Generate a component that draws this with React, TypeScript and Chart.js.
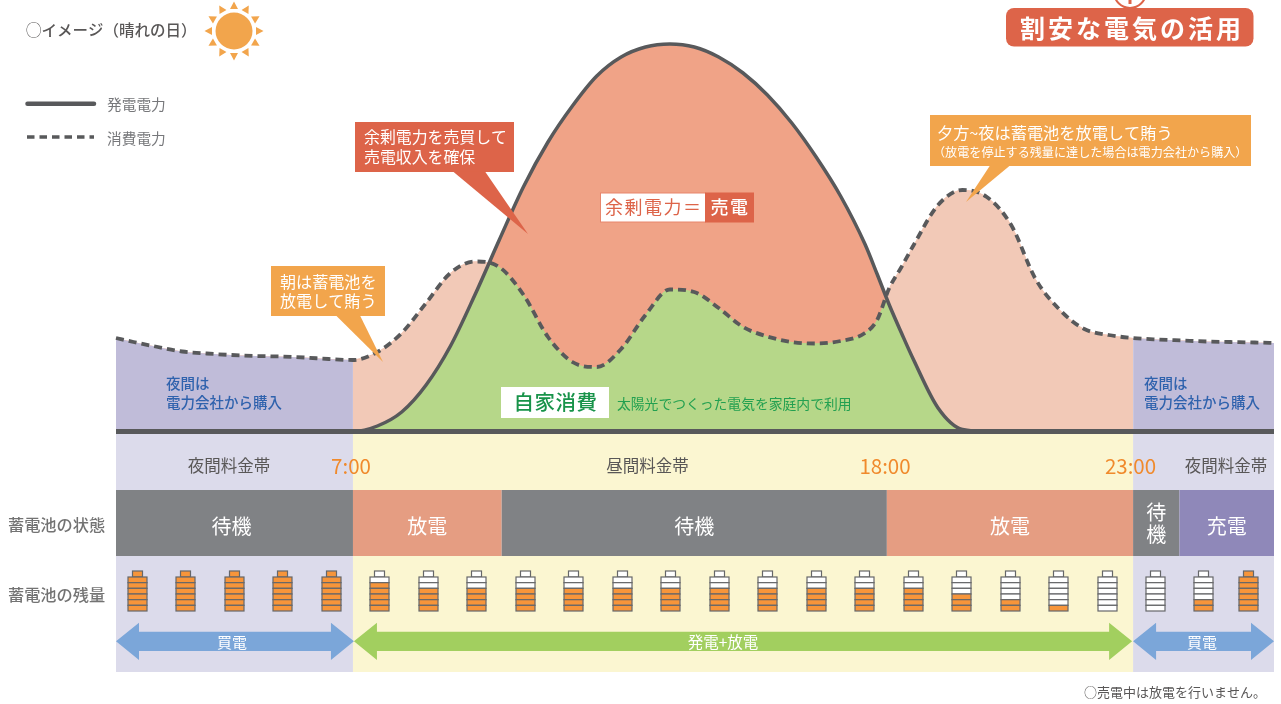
import React, { useEffect, useRef } from "react";
import { Chart, registerables } from "chart.js";

Chart.register(...registerables);

// Time of day in hours (24+ = after midnight)
const hours = [2.14, 2.5, 3, 3.5, 4, 4.5, 5, 5.5, 6, 6.5, 7, 7.5, 8, 8.5, 9, 9.5, 10, 10.5, 11, 11.5, 12, 12.5, 13, 13.5, 14, 14.5, 15, 15.5, 16, 16.5, 17, 17.5, 17.75, 18, 18.25, 18.5, 19, 19.5, 20, 20.5, 21, 21.5, 22, 22.5, 23, 23.5, 24, 24.5, 25, 25.5, 25.89];
const generation = [0, 0, 0, 0, 0, 0, 0, 0, 0, 0, 0, 0.055, 0.195, 0.465, 0.855, 1.365, 1.915, 2.45, 2.895, 3.255, 3.555, 3.745, 3.845, 3.875, 3.845, 3.745, 3.585, 3.365, 3.085, 2.745, 2.355, 1.875, 1.575, 1.265, 0.985, 0.715, 0.235, 0.02, 0, 0, 0, 0, 0, 0, 0, 0, 0, 0, 0, 0, 0];
const consumption = [0.935, 0.895, 0.845, 0.8, 0.78, 0.765, 0.755, 0.75, 0.74, 0.725, 0.715, 0.795, 0.985, 1.285, 1.585, 1.7, 1.645, 1.365, 0.945, 0.695, 0.645, 0.825, 1.165, 1.42, 1.395, 1.235, 1.045, 0.95, 0.895, 0.88, 0.905, 0.985, 1.115, 1.435, 1.645, 1.865, 2.265, 2.415, 2.345, 2.065, 1.525, 1.215, 1.025, 0.965, 0.935, 0.92, 0.91, 0.9, 0.895, 0.89, 0.885];

const dayStart = 7;
const dayEnd = 23;

const feeBands = [
  { from: 2.14, to: 7, night: true },
  { from: 7, to: 23, night: false },
  { from: 23, to: 25.89, night: true },
];
const statusBands = [
  { from: 2.14, to: 7, label: "待機", kind: "idle" },
  { from: 7, to: 10.05, label: "放電", kind: "discharge" },
  { from: 10.05, to: 17.95, label: "待機", kind: "idle" },
  { from: 17.95, to: 23, label: "放電", kind: "discharge" },
  { from: 23, to: 23.95, label: "待\n機", kind: "idle" },
  { from: 23.95, to: 25.89, label: "充電", kind: "charge" },
];
const batteryHours = [2.57, 3.56, 4.56, 5.55, 6.55, 7.53, 8.54, 9.52, 10.53, 11.51, 12.52, 13.5, 14.51, 15.49, 16.5, 17.48, 18.48, 19.47, 20.48, 21.46, 22.46, 23.45, 24.44, 25.36];
const batteryLevels = [7, 7, 7, 7, 7, 5, 4, 4, 4, 4, 4, 4, 4, 4, 4, 4, 4, 3, 2, 1, 0, 0, 2, 7];
const flowArrows = [
  { from: 2.14, to: 7.02, label: "買電", color: "#7ba6d9" },
  { from: 7.02, to: 22.98, label: "発電+放電", color: "#a2cf5f" },
  { from: 23, to: 25.89, label: "買電", color: "#7ba6d9" },
];
const timeMarks = [
  { label: "7:00", x: 351 },
  { label: "18:00", x: 885 },
  { label: "23:00", x: 1130.5 },
];

const FONT = '"Noto Sans CJK JP", "Noto Sans", sans-serif';
const GREY = "#595757";
const LINE = "#58595b";
const RED = "#dd6449";
const ORANGE = "#f2a54c";

function text(ctx: any, s: string, x: number, y: number, size: number, color: string, align = "left", weight = "400", spacing = 0) {
  ctx.save();
  ctx.font = `${weight} ${size}px ${FONT}`;
  ctx.fillStyle = color;
  ctx.textAlign = align;
  ctx.textBaseline = "middle";
  ctx.letterSpacing = `${spacing}px`;
  ctx.fillText(s, x, y);
  ctx.restore();
}

function callout(ctx: any, color: string, rect: number[], tail: number[]) {
  const [x0, y0, x1, y1] = rect;
  ctx.fillStyle = color;
  ctx.fillRect(x0, y0, x1 - x0, y1 - y0);
  ctx.beginPath();
  ctx.moveTo(tail[0], y1 - 0.5);
  ctx.lineTo(tail[1], y1 - 0.5);
  ctx.lineTo(tail[2], tail[3]);
  ctx.closePath();
  ctx.fill();
}

const diagramPlugin = {
  id: "diagram",
  afterDatasetsDraw(chart: any) {
    const ctx = chart.ctx;
    const sx = chart.scales.x;
    const px = (h: number) => sx.getPixelForValue(h);
    ctx.save();

    // fee row + battery row backgrounds
    for (const b of feeBands) {
      ctx.fillStyle = b.night ? "#dcdbeb" : "#fbf6d1";
      ctx.fillRect(px(b.from), 434, px(b.to) - px(b.from), 56);
      ctx.fillRect(px(b.from), 556, px(b.to) - px(b.from), 116);
    }
    text(ctx, "夜間料金帯", 229, 466, 16.5, GREY, "center");
    text(ctx, "昼間料金帯", 647.5, 466, 16.5, GREY, "center");
    text(ctx, "夜間料金帯", 1226, 466, 16.5, GREY, "center");
    for (const t of timeMarks) text(ctx, t.label, t.x, 466.5, 20.5, "#f08a2c", "center", "400");

    // battery status row
    const statusColors: any = { idle: "#808285", discharge: "#e59d82", charge: "#8f88b9" };
    statusBands.forEach((b, i) => {
      ctx.fillStyle = statusColors[b.kind];
      ctx.fillRect(px(b.from), 490, px(b.to) - px(b.from), 66);
      const cx = (px(b.from) + px(b.to)) / 2 - (i === 0 ? 3 : 0);
      const parts = b.label.split("\n");
      parts.forEach((p, k) => {
        const cy = parts.length === 1 ? 526.5 : 512 + k * 22.5;
        text(ctx, p, cx, cy, 20, "#ffffff", "center");
      });
    });
    text(ctx, "蓄電池の状態", 8, 525, 16.2, "#737373", "left", "500");
    text(ctx, "蓄電池の残量", 8, 595, 16.2, "#737373", "left", "500");

    // batteries
    batteryHours.forEach((h, i) => {
      const level = batteryLevels[i];
      const cx = Math.round(px(h)) + 0.5;
      const segH = 34 / 6;
      const top = 577;
      ctx.lineWidth = 1.2;
      ctx.strokeStyle = "#666769";
      ctx.fillStyle = level >= 7 ? "#f7953a" : "#ffffff";
      ctx.fillRect(cx - 5, 571, 10, 6);
      ctx.strokeRect(cx - 5, 571, 10, 6);
      for (let k = 0; k < 6; k++) {
        const y = top + k * segH;
        ctx.fillStyle = 6 - k <= level ? "#f7953a" : "#ffffff";
        ctx.fillRect(cx - 9.5, y, 19, segH);
        ctx.strokeRect(cx - 9.5, y, 19, segH);
      }
    });

    // flow arrows
    const ay = 641.3;
    for (const a of flowArrows) {
      const l = px(a.from);
      const r = px(a.to);
      ctx.fillStyle = a.color;
      ctx.beginPath();
      ctx.moveTo(l, ay);
      ctx.lineTo(l + 23, ay - 18.6);
      ctx.lineTo(l + 23, ay - 9.6);
      ctx.lineTo(r - 23, ay - 9.6);
      ctx.lineTo(r - 23, ay - 18.6);
      ctx.lineTo(r, ay);
      ctx.lineTo(r - 23, ay + 18.6);
      ctx.lineTo(r - 23, ay + 9.6);
      ctx.lineTo(l + 23, ay + 9.6);
      ctx.lineTo(l + 23, ay + 18.6);
      ctx.closePath();
      ctx.fill();
    }
    text(ctx, flowArrows[0].label, 232, 642, 15, "#ffffff", "center");
    text(ctx, flowArrows[1].label, 723, 642, 15.5, "#ffffff", "center");
    text(ctx, flowArrows[2].label, 1202, 642, 15, "#ffffff", "center");

    text(ctx, "○売電中は放電を行いません。", 1084, 692.5, 13, GREY);

    // heading and sun
    text(ctx, "◯イメージ（晴れの日）", 26, 30, 15.5, GREY, "left", "500");
    const sunX = 234;
    const sunY = 31;
    ctx.fillStyle = ORANGE;
    ctx.beginPath();
    ctx.arc(sunX, sunY, 18.5, 0, Math.PI * 2);
    ctx.fill();
    for (let i = 0; i < 12; i++) {
      const a = (i * Math.PI) / 6;
      const t = (r: number, o: number) => [sunX + r * Math.cos(a) - o * Math.sin(a), sunY + r * Math.sin(a) + o * Math.cos(a)];
      ctx.beginPath();
      ctx.moveTo(...t(29.5, 0));
      ctx.lineTo(...t(22, 4));
      ctx.lineTo(...t(22, -4));
      ctx.closePath();
      ctx.fill();
    }

    // legend
    ctx.strokeStyle = LINE;
    ctx.lineCap = "round";
    ctx.lineWidth = 4.5;
    ctx.beginPath();
    ctx.moveTo(27.5, 103.7);
    ctx.lineTo(94, 103.7);
    ctx.stroke();
    ctx.lineCap = "butt";
    ctx.lineWidth = 3.5;
    ctx.setLineDash([7.5, 5]);
    ctx.beginPath();
    ctx.moveTo(27, 137);
    ctx.lineTo(94, 137);
    ctx.stroke();
    ctx.setLineDash([]);
    text(ctx, "発電電力", 107, 104.5, 14.7, "#77787b");
    text(ctx, "消費電力", 107, 138, 14.7, "#77787b");

    // title tag
    ctx.fillStyle = "#ffffff";
    ctx.strokeStyle = RED;
    ctx.lineWidth = 2;
    ctx.beginPath();
    ctx.arc(1130, -8, 16, 0, Math.PI * 2);
    ctx.fill();
    ctx.stroke();
    ctx.fillStyle = RED;
    ctx.fillRect(1128.5, 0, 3, 4);
    ctx.beginPath();
    ctx.roundRect(1006, 8, 247.5, 38.5, 8);
    ctx.fill();
    text(ctx, "割安な電気の活用", 1132, 28.5, 25, "#ffffff", "center", "700", 3);

    // callouts
    callout(ctx, RED, [355, 122, 514, 172], [453, 485, 528, 234]);
    text(ctx, "余剰電力を売買して", 364, 137, 15.9, "#ffffff");
    text(ctx, "売電収入を確保", 364, 157, 15.9, "#ffffff");

    callout(ctx, ORANGE, [271, 266, 385, 316], [336, 360, 383, 362]);
    text(ctx, "朝は蓄電池を", 280, 282, 16.1, "#ffffff");
    text(ctx, "放電して賄う", 280, 301, 16.1, "#ffffff");

    callout(ctx, ORANGE, [930, 115, 1251, 166], [990, 1010, 966, 202]);
    text(ctx, "夕方~夜は蓄電池を放電して賄う", 937, 132.5, 16.2, "#ffffff");
    text(ctx, "（放電を停止する残量に達した場合は電力会社から購入）", 933, 152, 12.1, "#ffffff");

    // area labels
    ctx.fillStyle = "#ffffff";
    ctx.fillRect(600, 193, 105, 29);
    ctx.strokeStyle = "#e8866c";
    ctx.lineWidth = 1;
    ctx.strokeRect(600.5, 193, 105, 29);
    ctx.fillStyle = RED;
    ctx.fillRect(705, 192.5, 49, 30);
    text(ctx, "余剰電力＝", 605, 207.5, 18, RED, "left", "400", 1.5);
    text(ctx, "売電", 730, 207.5, 18, "#ffffff", "center", "500", 1.5);

    ctx.fillStyle = "#ffffff";
    ctx.fillRect(501, 387, 108, 31);
    text(ctx, "自家消費", 555.5, 402, 20.5, "#18934a", "center", "500", 0.5);
    text(ctx, "太陽光でつくった電気を家庭内で利用", 617, 404, 13.8, "#22a050");

    for (const x of [166, 1144]) {
      text(ctx, "夜間は", x, 383, 14.5, "#2f62ad", "left", "500");
      text(ctx, "電力会社から購入", x, 402.5, 14.5, "#2f62ad", "left", "500");
    }
    ctx.restore();
  },
};

export default function App() {
  const ref = useRef<HTMLCanvasElement | null>(null);
  useEffect(() => {
    document.body.style.margin = "0";
    const pts = (vals: number[]) => hours.map((h, i) => ({ x: h, y: vals[i] }));
    const within = (vals: number[], lo: number, hi: number) =>
      hours.map((h, i) => ({ x: h, y: h >= lo && h <= hi ? vals[i] : null }));
    const base = { pointRadius: 0, pointHoverRadius: 0, cubicInterpolationMode: "monotone", clip: false };
    const fillOnly = { ...base, borderWidth: 0, borderColor: "rgba(0,0,0,0)" };
    const chart = new Chart(ref.current as any, {
      type: "line",
      data: {
        datasets: [
          { ...base, label: "発電電力", data: pts(generation), borderColor: LINE, borderWidth: 3.5, fill: false, order: 2 },
          { ...base, label: "消費電力", data: pts(consumption), borderColor: LINE, borderWidth: 3.8, borderDash: [8, 5], fill: false, order: 3 },
          { ...fillOnly, label: "夜間購入(朝)", data: within(consumption, 0, dayStart), backgroundColor: "#c0bcd9", fill: "origin", order: 9 },
          { ...fillOnly, label: "夜間購入(夜)", data: within(consumption, dayEnd, 30), backgroundColor: "#c0bcd9", fill: "origin", order: 9 },
          { ...fillOnly, label: "蓄電池放電", data: within(consumption, dayStart, dayEnd), backgroundColor: "#f2c9b7", fill: "origin", order: 10 },
          { ...fillOnly, label: "自家消費", data: pts(generation), backgroundColor: "#b6d789", fill: "origin", order: 7 },
          { ...fillOnly, label: "余剰電力", data: pts(generation), fill: { target: 1, above: "#f0a387", below: "rgba(0,0,0,0)" }, order: 6 },
          { ...base, label: "基準線", data: pts(hours.map(() => 0)), borderColor: LINE, borderWidth: 5, cubicInterpolationMode: "default", fill: false, order: 1 },
        ],
      },
      options: {
        responsive: false,
        animation: false,
        layout: { padding: { left: 116, right: 7, top: 31.5, bottom: 272.5 } },
        plugins: { legend: { display: false }, tooltip: { enabled: false } },
        scales: {
          x: { type: "linear", min: 2.14, max: 25.89, display: false },
          y: { min: 0, max: 4, display: false },
        },
      },
      plugins: [diagramPlugin],
    } as any);
    return () => chart.destroy();
  }, []);
  return (
    <div style={{ position: "absolute", left: 0, top: 0, width: 1281, height: 704 }}>
      <canvas ref={ref} width={1281} height={704} style={{ display: "block", width: 1281, height: 704 }} />
    </div>
  );
}
